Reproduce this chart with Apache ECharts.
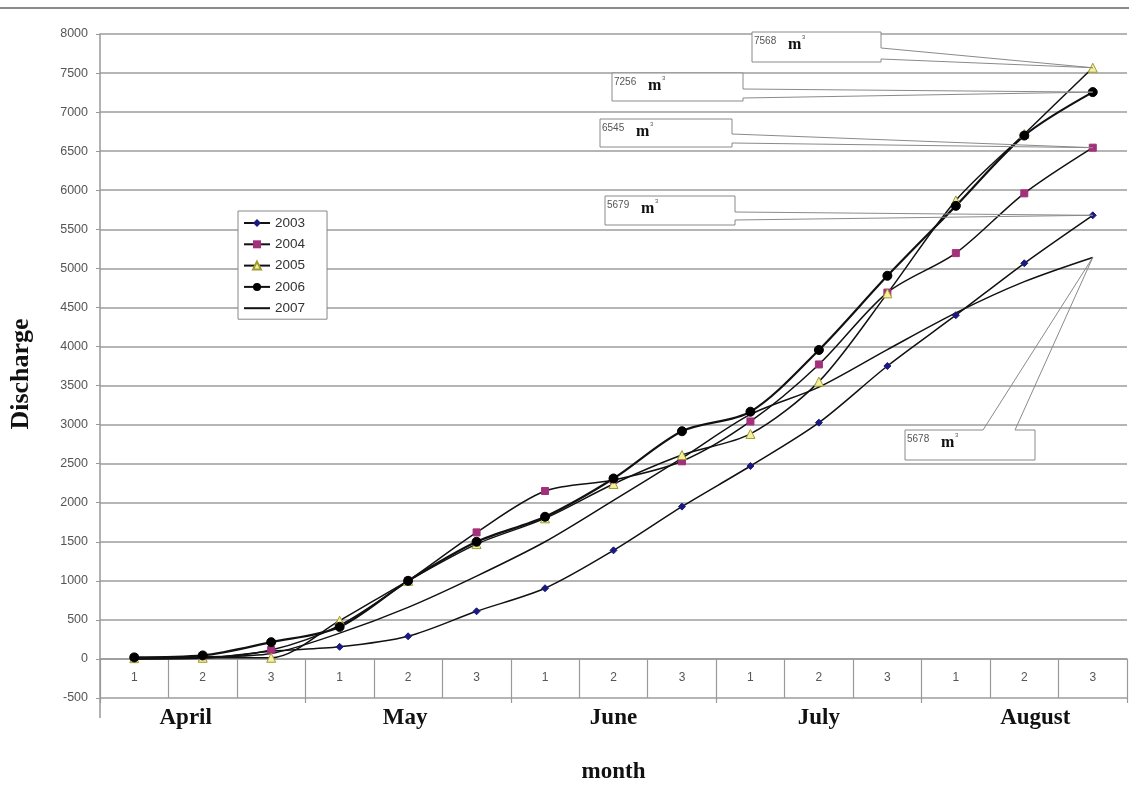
<!DOCTYPE html>
<html>
<head>
<meta charset="utf-8">
<script src="https://cdn.jsdelivr.net/npm/echarts@6/dist/echarts.min.js"></script>
<style>
  html, body { margin: 0; padding: 0; background: #fff; }
  #chart { width: 1129px; height: 787px; }
</style>
</head>
<body>
<div id="chart"></div>
<script>
// ---- data ----
const decades = ['1', '2', '3', '1', '2', '3', '1', '2', '3', '1', '2', '3', '1', '2', '3'];
const months = ['April', 'May', 'June', 'July', 'August'];
const seriesNames = ['2003', '2004', '2005', '2006', '2007'];
const v2003 = [0, 10, 100, 155, 290, 610, 905, 1390, 1950, 2470, 3025, 3750, 4400, 5065, 5679];
const v2004 = [15, 20, 115, 430, 1000, 1620, 2150, 2290, 2530, 3040, 3770, 4690, 5195, 5960, 6545];
const v2005 = [10, 15, 15, 490, 1000, 1470, 1800, 2240, 2610, 2880, 3550, 4680, 5870, 6720, 7568];
const v2006 = [20, 45, 215, 410, 1000, 1500, 1820, 2310, 2915, 3165, 3955, 4905, 5800, 6700, 7256];
const v2007 = [0, 25, 70, 330, 660, 1060, 1500, 2030, 2570, 3130, 3480, 3960, 4430, 4830, 5140];
const yTicks = { min: -500, max: 8000, interval: 500 };
const calloutLabels = ['7568', '7256', '6545', '5679', '5678'];
const calloutSeries = [2, 3, 1, 0, 4];

// ---- layout (pixels / style only) ----
const calloutLayout = [
  { box: [752, 32, 129, 30], side: 'right', base: [48, 59] },
  { box: [612, 73, 131, 28], side: 'right', base: [89, 98] },
  { box: [600, 119, 132, 28], side: 'right', base: [134, 143] },
  { box: [605, 196, 130, 29], side: 'right', base: [212, 220] },
  { box: [905, 430, 130, 30], side: 'top', base: [983, 1015] }
];
const monthLabelPadding = [[0, 34, 0, 0], [0, 6, 0, 0], [0, 0, 0, 0], [0, 0, 0, 0], [0, 0, 0, 22]];

const SANS = 'Liberation Sans';
const SERIF = 'Liberation Serif';
const allValues = [v2003, v2004, v2005, v2006, v2007];

const chart = echarts.init(document.getElementById('chart'), null, { renderer: 'canvas' });

const lineBase = (name, data, sym, size, itemStyle, width) => ({
  name: name,
  type: 'line',
  xAxisIndex: 0,
  yAxisIndex: 0,
  data: data,
  smooth: 0.3,
  symbol: sym,
  symbolSize: size,
  showSymbol: sym !== 'none',
  itemStyle: itemStyle,
  lineStyle: { color: '#111', width: width },
  emphasis: { disabled: true },
  z: 3
});

const legendData = seriesNames.map((n) =>
  n === '2007'
    ? { name: n, icon: 'path://M0,0 L26,0 L26,2 L0,2 Z', itemStyle: { color: '#111' } }
    : { name: n }
);

const monthData = months.map((m, i) => ({ value: m, textStyle: { padding: monthLabelPadding[i] } }));

const option = {
  animation: false,
  backgroundColor: '#fff',
  grid: { left: 100, right: 2, top: 34, bottom: 89, containLabel: false, outerBoundsMode: 'none' },
  legend: {
    data: legendData,
    orient: 'vertical',
    left: 238,
    top: 211,
    padding: [5, 22, 4, 5],
    itemGap: 7.3,
    itemWidth: 26,
    itemHeight: 10,
    borderColor: '#888',
    borderWidth: 1,
    backgroundColor: '#fff',
    textStyle: { fontFamily: SANS, fontSize: 13.5, lineHeight: 14, color: '#333' },
    selectedMode: false
  },
  xAxis: [
    {
      type: 'category',
      data: decades,
      gridIndex: 0,
      position: 'bottom',
      boundaryGap: true,
      axisLine: { onZero: true, lineStyle: { color: '#999', width: 1.5 } },
      axisTick: { show: true, length: 39, lineStyle: { color: '#999', width: 1.2 } },
      axisLabel: { margin: -26, fontFamily: SANS, fontSize: 12, color: '#555' },
      splitLine: { show: false }
    },
    {
      type: 'category',
      data: monthData,
      gridIndex: 0,
      position: 'bottom',
      boundaryGap: true,
      axisLine: { show: false, onZero: false },
      axisTick: { show: true, length: 5, lineStyle: { color: '#999', width: 1.2 } },
      axisLabel: { margin: 9, fontFamily: SERIF, fontSize: 23, fontWeight: 'bold', color: '#111' },
      name: 'month',
      nameLocation: 'middle',
      nameGap: 63,
      nameTextStyle: { fontFamily: SERIF, fontSize: 23, fontWeight: 'bold', color: '#111' },
      splitLine: { show: false }
    }
  ],
  yAxis: {
    type: 'value',
    min: yTicks.min,
    max: yTicks.max,
    interval: yTicks.interval,
    name: 'Discharge',
    nameLocation: 'middle',
    nameGap: 66,
    nameTextStyle: { fontFamily: SERIF, fontSize: 26, fontWeight: 'bold', color: '#111', padding: [0, 16, 0, 0] },
    axisLine: { show: true, lineStyle: { color: '#999', width: 1.5 } },
    axisTick: { show: true, length: 4, lineStyle: { color: '#999' } },
    axisLabel: { margin: 12, fontFamily: SANS, fontSize: 12.5, color: '#555', formatter: (v) => String(v) },
    splitLine: { show: true, lineStyle: { color: '#9c9c9c', width: 1.5 } }
  },
  series: [
    lineBase('2003', v2003, 'diamond', 7, { color: '#1a1a80', borderColor: '#1a1a80' }, 1.5),
    lineBase('2004', v2004, 'rect', 7, { color: '#a3307a', borderColor: '#a3307a' }, 1.5),
    lineBase('2005', v2005, 'triangle', 9, { color: '#f4f0a0', borderColor: '#a09a30', borderWidth: 1 }, 1.5),
    lineBase('2006', v2006, 'circle', 9, { color: '#000', borderColor: '#000' }, 2.2),
    lineBase('2007', v2007, 'none', 0, { color: '#111' }, 1.5)
  ]
};

chart.setOption(option);

// ---- callouts & decorations computed from the chart's own scales ----
const graphics = [];
graphics.push({
  type: 'line', z: 0,
  shape: { x1: 0, y1: 8, x2: 1129, y2: 8 },
  style: { stroke: '#8a8a8a', lineWidth: 2 }
});
const bottomLeft = chart.convertToPixel({ yAxisIndex: 0 }, yTicks.min);
graphics.push({
  type: 'line', z: 1,
  shape: { x1: 100, y1: bottomLeft, x2: 100, y2: bottomLeft + 20 },
  style: { stroke: '#999', lineWidth: 1.5 }
});

calloutLabels.forEach((label, i) => {
  const si = calloutSeries[i];
  const vals = allValues[si];
  const last = vals.length - 1;
  const tip = chart.convertToPixel({ seriesIndex: si }, [last, vals[last]]);
  const L = calloutLayout[i];
  const [bx, by, bw, bh] = L.box;
  let pts;
  if (L.side === 'right') {
    pts = [[bx, by], [bx + bw, by], [bx + bw, L.base[0]], tip, [bx + bw, L.base[1]], [bx + bw, by + bh], [bx, by + bh], [bx, by]];
  } else {
    pts = [[bx, by], [L.base[0], by], tip, [L.base[1], by], [bx + bw, by], [bx + bw, by + bh], [bx, by + bh], [bx, by]];
  }
  graphics.push({
    type: 'rect', z: 10,
    shape: { x: bx, y: by, width: bw, height: bh },
    style: { fill: '#fff', stroke: null }
  });
  graphics.push({
    type: 'polyline', z: 11,
    shape: { points: pts },
    style: { stroke: '#8a8a8a', lineWidth: 1, fill: null }
  });
  graphics.push({
    type: 'text', z: 12,
    x: bx + 2, y: by + 4,
    style: { text: label, fontFamily: SANS, fontSize: 10, fill: '#555' }
  });
  graphics.push({
    type: 'text', z: 12,
    x: bx + 36, y: by + 5,
    style: { text: 'm', fontFamily: SERIF, fontSize: 16, fontWeight: 'bold', fill: '#111' }
  });
  graphics.push({
    type: 'text', z: 12,
    x: bx + 50, y: by + 2,
    style: { text: '3', fontFamily: SANS, fontSize: 6, fill: '#555' }
  });
});

chart.setOption({ graphic: graphics });
</script>
</body>
</html>
